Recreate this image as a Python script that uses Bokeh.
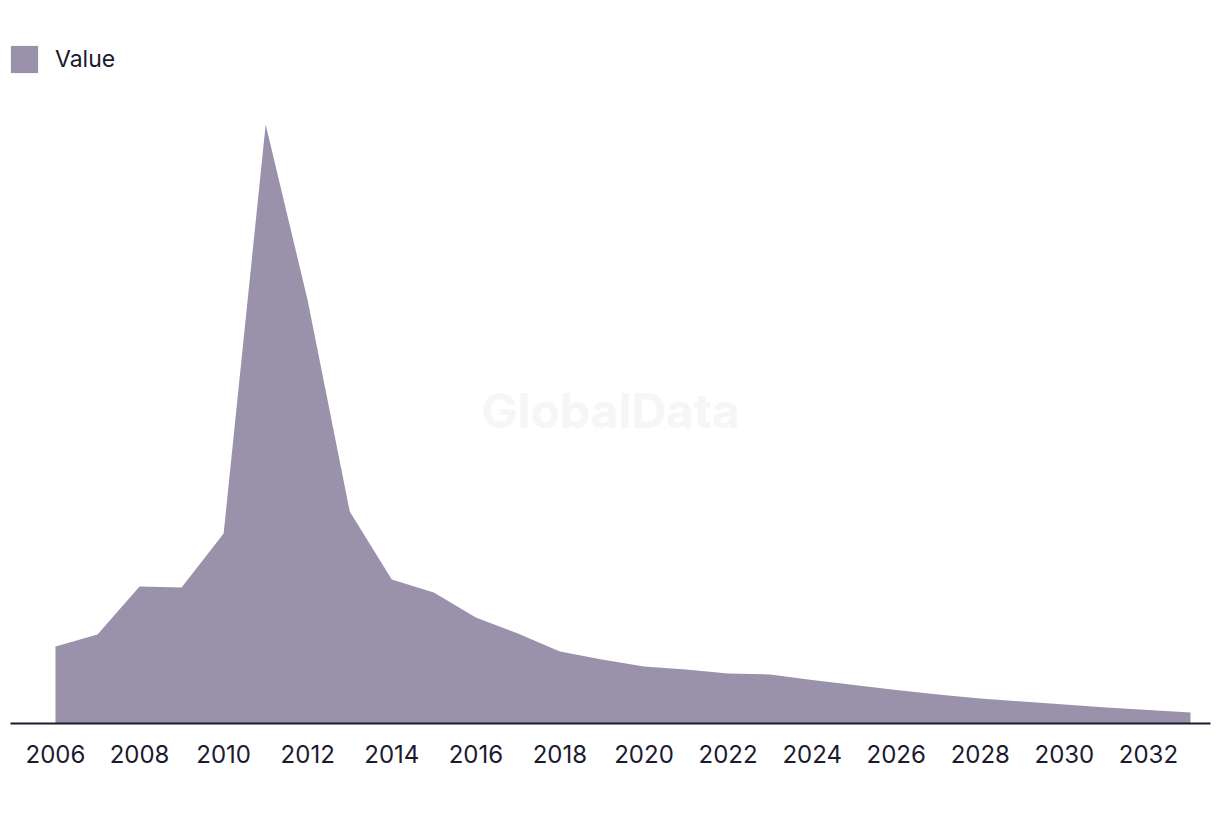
from bokeh.plotting import figure
from bokeh.models import Legend, LegendItem, Label, Range1d, FixedTicker
from bokeh.embed import file_html
from bokeh.resources import INLINE

years = list(range(2006, 2034))
values = [77, 89, 137, 136, 190, 599, 423, 212, 144, 131, 106, 90, 72, 64,
          57, 54, 50, 49, 43.5, 38.5, 33.5, 29, 25, 22, 19, 16, 13.5, 11]
tick_years = list(range(2006, 2034, 2))

AREA = "#9a91aa"
TEXT = "#1b1a2e"
FONT = "Inter"

p = figure(width=1220, height=816, output_backend="svg", toolbar_location=None,
           x_range=Range1d(2004.93, 2033.476), y_range=Range1d(0, 693),
           min_border_left=10, min_border_right=10, min_border_top=30,
           min_border_bottom=93)
p.outline_line_color = None
p.xgrid.visible = False
p.ygrid.visible = False
p.yaxis.visible = False
p.background_fill_color = "white"
p.border_fill_color = "white"

wm = Label(x=600, y=313, x_units="screen", y_units="screen", text="GlobalData",
           text_align="center", text_baseline="middle", text_font=FONT,
           text_font_style="bold", text_font_size="48px", text_color="#f6f6f6")
p.add_layout(wm)

r = p.varea(x=years, y1=0, y2=values, fill_color=AREA)

ax = p.xaxis[0]
ax.ticker = FixedTicker(ticks=tick_years)
ax.axis_line_color = TEXT
ax.axis_line_width = 2
ax.major_tick_line_color = None
ax.minor_tick_line_color = None
ax.major_label_text_font = FONT
ax.major_label_text_font_size = "24px"
ax.major_label_text_color = TEXT
ax.major_label_standoff = 15

legend = Legend(items=[LegendItem(label="Value", renderers=[r])],
                location=(-3, 647), glyph_width=34, glyph_height=34,
                label_standoff=14, padding=0, margin=0, border_line_color=None,
                background_fill_alpha=0, label_text_font=FONT,
                label_text_font_size="23px", label_text_color=TEXT,
                label_height=34)
p.add_layout(legend, "center")

open("out.html", "w").write(file_html(p, INLINE))
